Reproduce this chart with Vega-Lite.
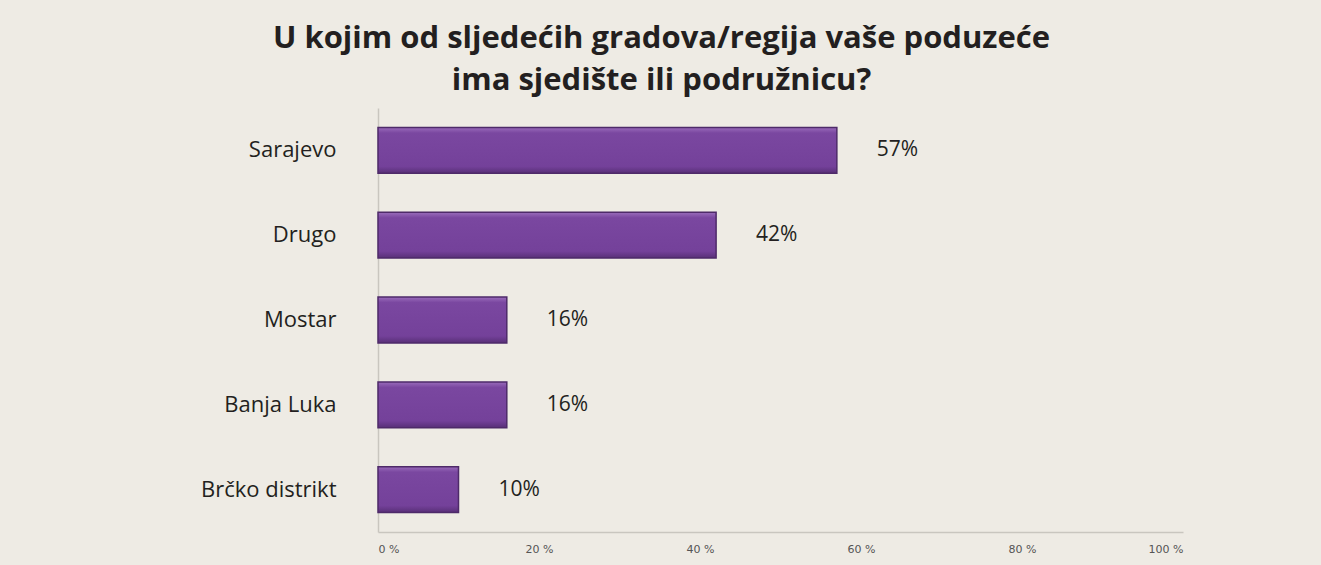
{
  "$schema": "https://vega.github.io/schema/vega-lite/v6.json",
  "width": 805,
  "height": 424,
  "autosize": {"type": "none"},
  "padding": {"left": 378, "top": 108, "right": 138, "bottom": 33},
  "background": "#eeebe4",
  "title": {
    "text": ["U kojim od sljedećih gradova/regija vaše poduzeće", "ima sjedište ili podružnicu?"],
    "anchor": "middle",
    "dx": -119,
    "offset": 11,
    "font": "Open Sans",
    "fontSize": 31,
    "fontWeight": "bold",
    "lineHeight": 42,
    "color": "#231f20"
  },
  "data": {
    "values": [
      {"region": "Sarajevo", "value": 57, "label": "57%"},
      {"region": "Drugo", "value": 42, "label": "42%"},
      {"region": "Mostar", "value": 16, "label": "16%"},
      {"region": "Banja Luka", "value": 16, "label": "16%"},
      {"region": "Brčko distrikt", "value": 10, "label": "10%"}
    ]
  },
  "config": {
    "view": {"stroke": null},
    "axis": {"grid": false, "ticks": false, "tickSize": 0, "domainColor": "#c9c6bf", "domainWidth": 1.5}
  },
  "encoding": {
    "y": {
      "field": "region",
      "type": "nominal",
      "sort": null,
      "scale": {"paddingInner": 0.46, "paddingOuter": 0.23},
      "axis": {"title": null, "labelFont": "Open Sans", "labelFontSize": 22, "labelColor": "#231f20", "labelPadding": 42}
    },
    "x": {
      "field": "value",
      "type": "quantitative",
      "scale": {"domain": [0, 100], "nice": false},
      "axis": {
        "title": null,
        "values": [0, 20, 40, 60, 80, 100],
        "labelExpr": "datum.value + ' %'",
        "labelFont": "DejaVu Sans",
        "labelFontSize": 11,
        "labelColor": "#555555",
        "labelPadding": 11,
        "labelDx": 8
      }
    }
  },
  "layer": [
    {
      "mark": {
        "type": "bar",
        "color": {
          "gradient": "linear",
          "x1": 0, "y1": 0, "x2": 0, "y2": 1,
          "stops": [
            {"offset": 0, "color": "#9a6cbb"},
            {"offset": 0.12, "color": "#7a47a0"},
            {"offset": 0.85, "color": "#74419a"},
            {"offset": 1, "color": "#582f77"}
          ]
        },
        "stroke": "#4e2a69",
        "strokeWidth": 1.5
      }
    },
    {
      "mark": {"type": "text", "align": "left", "dx": 40, "font": "Open Sans", "fontSize": 21, "color": "#231f20"},
      "encoding": {"text": {"field": "label"}}
    }
  ]
}
